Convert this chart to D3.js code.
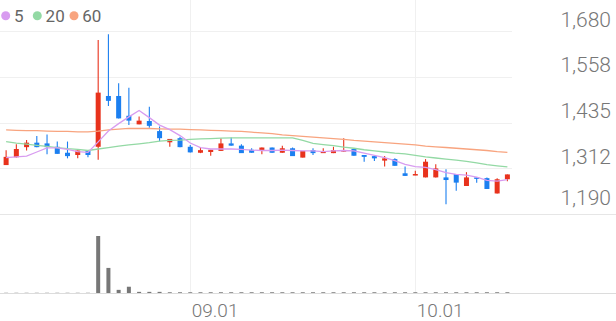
<!DOCTYPE html>
<html>
<head>
<meta charset="utf-8">
<script src="https://cdn.jsdelivr.net/npm/d3@7"></script>
<style>
  html, body { margin: 0; padding: 0; background: #fff; }
  svg { display: block; font-family: Roboto, "Noto Sans", sans-serif; }
</style>
</head>
<body>
<div id="chart"></div>
<script>
const width = 616;
const height = 321;

// trading days (MM.DD)
const dates = [
  "08.05", "08.06", "08.07", "08.08", "08.11", "08.12", "08.13", "08.14", "08.18", "08.19",
  "08.20", "08.21", "08.22", "08.25", "08.26", "08.27", "08.28", "08.29", "09.01", "09.02",
  "09.03", "09.04", "09.05", "09.08", "09.09", "09.10", "09.11", "09.12", "09.15", "09.16",
  "09.17", "09.18", "09.19", "09.22", "09.23", "09.24", "09.25", "09.26", "09.29", "09.30",
  "10.01", "10.02", "10.10", "10.13", "10.14", "10.15", "10.16", "10.17", "10.20", "10.21"
];

const opens = [
  1321, 1342, 1369, 1381, 1379, 1370, 1354, 1348, 1360, 1370,
  1506, 1506, 1453, 1430, 1439, 1412, 1382, 1393, 1370, 1354,
  1356, 1359, 1379, 1373, 1362, 1359, 1368, 1354, 1366, 1341,
  1361, 1353, 1353, 1357, 1364, 1348, 1345, 1333, 1337, 1299,
  1294, 1288, 1288, 1288, 1297, 1265, 1288, 1286, 1245, 1283
];
const highs = [
  1361, 1377, 1388, 1399, 1403, 1384, 1384, 1360, 1360, 1656,
  1671, 1540, 1528, 1451, 1477, 1424, 1391, 1397, 1375, 1369,
  1362, 1393, 1395, 1377, 1366, 1368, 1368, 1373, 1368, 1359,
  1366, 1366, 1370, 1393, 1364, 1348, 1345, 1345, 1339, 1317,
  1306, 1337, 1323, 1310, 1297, 1302, 1288, 1288, 1286, 1296
];
const lows = [
  1321, 1341, 1360, 1369, 1350, 1351, 1339, 1339, 1342, 1335,
  1479, 1446, 1428, 1430, 1421, 1385, 1370, 1369, 1355, 1353,
  1346, 1359, 1373, 1353, 1354, 1350, 1354, 1354, 1345, 1341,
  1348, 1353, 1353, 1357, 1346, 1330, 1332, 1317, 1319, 1292,
  1294, 1288, 1288, 1216, 1252, 1265, 1274, 1257, 1245, 1278
];
const closes = [
  1343, 1364, 1381, 1369, 1369, 1351, 1345, 1360, 1348, 1515,
  1493, 1446, 1440, 1440, 1426, 1393, 1391, 1369, 1355, 1361,
  1362, 1379, 1373, 1353, 1354, 1368, 1354, 1366, 1345, 1359,
  1353, 1357, 1361, 1361, 1346, 1343, 1339, 1339, 1319, 1292,
  1297, 1330, 1312, 1281, 1274, 1288, 1284, 1257, 1283, 1296
];

// volume, relative to the biggest day
const volumes = [
  0.4, 0.4, 0.4, 0.4, 0.4, 0.4, 0.4, 0.4, 0.4, 100,
  44, 5.5, 11, 2, 2, 2, 1.3, 1.3, 1.3, 1.3,
  1.3, 1.3, 1.3, 1.3, 1.3, 1.3, 1.3, 1.3, 1.3, 1.3,
  1.3, 1.3, 1.3, 1.3, 1.3, 1.3, 1.3, 1.3, 1.3, 1.3,
  1.3, 1.3, 1.3, 1.3, 1.3, 1.3, 1.3, 1.3, 1.3, 1.3
];

// moving averages as shown on the chart
const ma5 = [
  1341, 1343, 1345, 1356, 1367, 1367, 1363, 1357, 1355, 1383,
  1412, 1432, 1450, 1467, 1448, 1428, 1416, 1400, 1380, 1368,
  1364, 1364, 1364, 1363, 1361, 1360, 1360, 1361, 1360, 1359,
  1359, 1357, 1359, 1360, 1359, 1353, 1347, 1341, 1333, 1323,
  1317, 1315, 1309, 1301, 1296, 1294, 1289, 1280, 1278, 1282
];
const ma20 = [
  1384, 1380, 1377, 1374, 1371, 1368, 1365, 1363, 1360, 1364,
  1368, 1372, 1375, 1378, 1381, 1385, 1387, 1388, 1390, 1391,
  1392, 1393, 1394, 1394, 1394, 1394, 1394, 1394, 1394, 1387,
  1379, 1376, 1373, 1369, 1366, 1362, 1359, 1356, 1353, 1351,
  1347, 1343, 1340, 1337, 1334, 1331, 1327, 1322, 1319, 1316
];
const ma60 = [
  1415, 1414, 1413, 1413, 1412, 1411, 1411, 1410, 1410, 1412,
  1415, 1417, 1419, 1419, 1419, 1418, 1417, 1417, 1416, 1415,
  1414, 1413, 1412, 1411, 1409, 1407, 1405, 1402, 1400, 1398,
  1396, 1394, 1392, 1390, 1387, 1385, 1383, 1381, 1379, 1377,
  1375, 1372, 1370, 1368, 1366, 1364, 1362, 1360, 1357, 1355
];

const yTickValues = [1190, 1312.5, 1435, 1557.5, 1680];
const yTickLabels = ["1,190", "1,312", "1,435", "1,558", "1,680"];
const xTickDates = ["09.01", "10.01"];

const maSeries = [
  { name: "5", values: ma5, color: "#d89cf0" },
  { name: "20", values: ma20, color: "#93d9a4" },
  { name: "60", values: ma60, color: "#f8a47f" }
];

const upColor = "#e8321c";
const downColor = "#1b7ff0";

const svg = d3.select("#chart").append("svg")
  .attr("width", width)
  .attr("height", height);

const x = d3.scaleBand().domain(dates).range([1, 512.5]);
const cx = d => x(d) + x.bandwidth() / 2;
const y = d3.scaleLinear().domain([1190, 1680]).range([214, 31]);
const yVol = d3.scaleLinear().domain([0, 100]).range([293, 236]);

const bodyW = 5;

// grid
const grid = svg.append("g").attr("shape-rendering", "crispEdges");
grid.selectAll("line.h").data(yTickValues.slice(1))
  .enter().append("line")
  .attr("x1", 0).attr("x2", 512)
  .attr("y1", d => Math.round(y(d)) + 0.5).attr("y2", d => Math.round(y(d)) + 0.5)
  .attr("stroke", "#f0f0f0");
grid.selectAll("line.v").data(xTickDates)
  .enter().append("line")
  .attr("x1", d => Math.round(cx(d)) + 0.5).attr("x2", d => Math.round(cx(d)) + 0.5)
  .attr("y1", 0).attr("y2", 293)
  .attr("stroke", "#f0f0f0");
grid.append("line")
  .attr("x1", 0).attr("x2", width)
  .attr("y1", Math.round(y(1190)) + 0.5).attr("y2", Math.round(y(1190)) + 0.5)
  .attr("stroke", "#e6e6e6");
grid.append("line")
  .attr("x1", 0).attr("x2", width)
  .attr("y1", yVol(0) + 0.5).attr("y2", yVol(0) + 0.5)
  .attr("stroke", "#dcdcdc");

// volume bars
svg.append("g").selectAll("rect").data(dates)
  .enter().append("rect")
  .attr("x", d => cx(d) - 2)
  .attr("width", 4)
  .attr("y", (d, i) => yVol(volumes[i]))
  .attr("height", (d, i) => yVol(0) - yVol(volumes[i]))
  .attr("fill", "#777");

// candles
const candle = svg.append("g").selectAll("g").data(dates)
  .enter().append("g")
  .attr("fill", (d, i) => closes[i] >= opens[i] ? upColor : downColor)
  .attr("stroke", (d, i) => closes[i] >= opens[i] ? upColor : downColor);

candle.append("line")
  .attr("x1", d => cx(d)).attr("x2", d => cx(d))
  .attr("y1", (d, i) => y(highs[i]))
  .attr("y2", (d, i) => y(lows[i]))
  .attr("stroke-width", 1.1);

candle.append("rect")
  .attr("stroke", "none")
  .attr("x", d => cx(d) - bodyW / 2)
  .attr("width", bodyW)
  .attr("y", (d, i) => y(Math.max(opens[i], closes[i])))
  .attr("height", (d, i) => Math.max(1.5, Math.abs(y(opens[i]) - y(closes[i]))));

// moving average lines
const line = d3.line().x((v, i) => cx(dates[i])).y(v => y(v));
svg.append("g").selectAll("path").data(maSeries.slice().reverse())
  .enter().append("path")
  .attr("d", d => line(d.values))
  .attr("fill", "none")
  .attr("stroke", d => d.color)
  .attr("stroke-width", 1.3);

// y labels
svg.append("g").selectAll("text").data(yTickValues)
  .enter().append("text")
  .attr("x", 611)
  .attr("y", d => Math.min(y(d) - 4.5, 205))
  .attr("text-anchor", "end")
  .attr("font-size", 21)
  .attr("font-weight", 300)
  .attr("fill", "#777")
  .text((d, i) => yTickLabels[i]);

// x labels
svg.append("g").selectAll("text").data(xTickDates)
  .enter().append("text")
  .attr("x", d => cx(d) + 1.5)
  .attr("y", 316.5)
  .attr("font-size", 19)
  .attr("font-weight", 300)
  .attr("fill", "#777")
  .text(d => d);

// legend
const legend = svg.append("g");
const legendX = [5.7, 37.3, 74];
legend.selectAll("circle").data(maSeries)
  .enter().append("circle")
  .attr("cx", (d, i) => legendX[i]).attr("cy", 15.7).attr("r", 4.5)
  .attr("fill", d => d.color);
legend.selectAll("text").data(maSeries)
  .enter().append("text")
  .attr("x", (d, i) => legendX[i] + 8.3).attr("y", 21.5)
  .attr("font-size", 17)
  .attr("fill", "#666")
  .text(d => d.name);
</script>
</body>
</html>
